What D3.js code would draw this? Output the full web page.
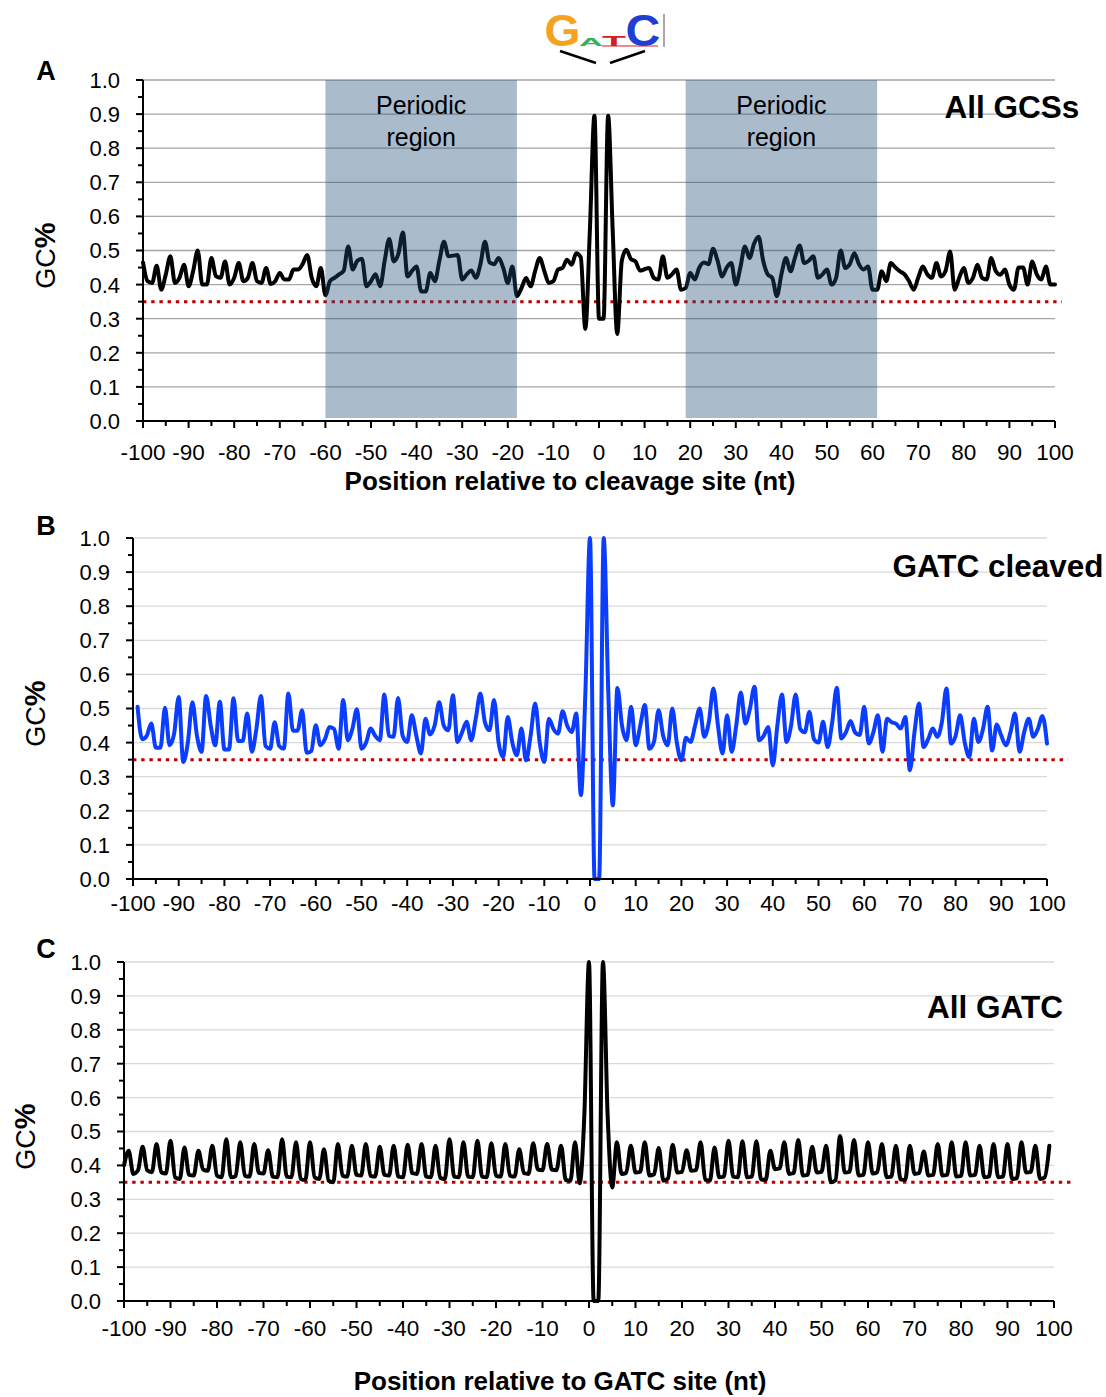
<!DOCTYPE html>
<html>
<head>
<meta charset="utf-8">
<script src="https://cdnjs.cloudflare.com/ajax/libs/d3/7.8.5/d3.min.js"></script>
<style>
  body { margin: 0; background: #fff; }
  svg text { font-family: "Liberation Sans", Arial, sans-serif; fill: #000; }
</style>
</head>
<body>
<div id="chart"></div>
<script>
/***************************
 * Data
 ***************************/
var xTickLabels = [-100, -90, -80, -70, -60, -50, -40, -30, -20, -10, 0, 10, 20, 30, 40, 50, 60, 70, 80, 90, 100];
var yTickLabels = [0.0, 0.1, 0.2, 0.3, 0.4, 0.5, 0.6, 0.7, 0.8, 0.9, 1.0];
var threshold = 0.35;
var periodicRegions = [[-60, -18], [19, 61]];

// A: all GCSs, positions -100..100
var posA = d3.range(-100, 101);
var gcA = [
    0.465, 0.41, 0.405, 0.455, 0.385, 0.43, 0.483, 0.405, 0.42, 0.458,
    0.395, 0.44, 0.50, 0.40, 0.40, 0.478, 0.425, 0.42, 0.468, 0.40,
    0.42, 0.463, 0.41, 0.42, 0.463, 0.41, 0.405, 0.449, 0.402, 0.41,
    0.434, 0.415, 0.415, 0.444, 0.444, 0.46, 0.487, 0.42, 0.395, 0.449,
    0.369, 0.41, 0.42, 0.43, 0.44, 0.512, 0.444, 0.47, 0.476, 0.395,
    0.41, 0.43, 0.395, 0.47, 0.534, 0.468, 0.49, 0.553, 0.424, 0.44,
    0.453, 0.38, 0.38, 0.434, 0.41, 0.47, 0.526, 0.483, 0.485, 0.487,
    0.415, 0.43, 0.441, 0.42, 0.46, 0.526, 0.465, 0.46, 0.478, 0.449,
    0.405, 0.453, 0.366, 0.39, 0.419, 0.395, 0.44, 0.478, 0.44, 0.405,
    0.41, 0.444, 0.449, 0.473, 0.458, 0.492, 0.48, 0.27, 0.56, 0.895,
    0.30,
    0.30, 0.895, 0.56, 0.255, 0.47, 0.502, 0.475, 0.468, 0.441, 0.445,
    0.449, 0.42, 0.415, 0.483, 0.42, 0.43, 0.444, 0.385, 0.39, 0.434,
    0.415, 0.45, 0.465, 0.46, 0.505, 0.47, 0.424, 0.45, 0.463, 0.40,
    0.45, 0.512, 0.478, 0.52, 0.54, 0.47, 0.43, 0.42, 0.366, 0.43,
    0.478, 0.439, 0.48, 0.515, 0.463, 0.47, 0.483, 0.42, 0.43, 0.444,
    0.40, 0.42, 0.50, 0.449, 0.46, 0.492, 0.46, 0.444, 0.453, 0.385,
    0.385, 0.439, 0.41, 0.463, 0.45, 0.439, 0.43, 0.41, 0.385, 0.42,
    0.453, 0.43, 0.42, 0.463, 0.424, 0.44, 0.497, 0.385, 0.42, 0.449,
    0.405, 0.42, 0.458, 0.42, 0.415, 0.478, 0.44, 0.429, 0.444, 0.40,
    0.385, 0.45, 0.45, 0.40, 0.468, 0.43, 0.415, 0.453, 0.40, 0.40
];

// B: GATC cleaved, positions -99..100
var posB = d3.range(-99, 101);
var gcB = [
    0.505, 0.41, 0.42, 0.456, 0.385, 0.385, 0.502, 0.392, 0.426, 0.534,
    0.343, 0.40, 0.518, 0.42, 0.373, 0.537, 0.45, 0.392, 0.52, 0.38,
    0.38, 0.53, 0.405, 0.405, 0.485, 0.373, 0.44, 0.537, 0.39, 0.382,
    0.46, 0.39, 0.382, 0.544, 0.435, 0.435, 0.495, 0.37, 0.375, 0.451,
    0.392, 0.41, 0.446, 0.44, 0.382, 0.525, 0.407, 0.44, 0.498, 0.382,
    0.40, 0.441, 0.42, 0.407, 0.541, 0.42, 0.417, 0.531, 0.42, 0.402,
    0.48, 0.42, 0.368, 0.47, 0.424, 0.45, 0.518, 0.45, 0.436, 0.539,
    0.402, 0.43, 0.461, 0.407, 0.47, 0.544, 0.46, 0.436, 0.525, 0.40,
    0.358, 0.475, 0.40, 0.363, 0.441, 0.348, 0.42, 0.515, 0.40, 0.343,
    0.47, 0.44, 0.426, 0.492, 0.45, 0.431, 0.485, 0.246, 0.55, 1.0,
    0.0, 0.0, 1.0, 0.55, 0.216, 0.56, 0.45, 0.407, 0.505, 0.392,
    0.45, 0.51, 0.382, 0.402, 0.495, 0.42, 0.392, 0.50, 0.40, 0.348,
    0.414, 0.402, 0.45, 0.50, 0.417, 0.46, 0.559, 0.45, 0.368, 0.48,
    0.373, 0.45, 0.547, 0.456, 0.50, 0.564, 0.407, 0.42, 0.446, 0.333,
    0.45, 0.541, 0.402, 0.45, 0.541, 0.44, 0.43, 0.49, 0.41, 0.40,
    0.461, 0.387, 0.46, 0.561, 0.412, 0.43, 0.463, 0.43, 0.422, 0.505,
    0.397, 0.43, 0.48, 0.373, 0.47, 0.46, 0.455, 0.441, 0.475, 0.319,
    0.43, 0.515, 0.387, 0.41, 0.441, 0.417, 0.46, 0.559, 0.397, 0.42,
    0.48, 0.40, 0.358, 0.47, 0.402, 0.44, 0.505, 0.377, 0.453, 0.42,
    0.392, 0.43, 0.485, 0.373, 0.43, 0.47, 0.417, 0.44, 0.478, 0.397
];

// C: all GATC, positions -100..99
var posC = d3.range(-100, 100);
var gcC = [
    0.40, 0.443, 0.375, 0.385, 0.455, 0.385, 0.38, 0.463, 0.38, 0.376,
    0.473, 0.365, 0.36, 0.453, 0.372, 0.37, 0.443, 0.388, 0.384, 0.458,
    0.37, 0.365, 0.477, 0.365, 0.368, 0.468, 0.37, 0.367, 0.463, 0.378,
    0.376, 0.445, 0.367, 0.365, 0.477, 0.367, 0.365, 0.468, 0.36, 0.357,
    0.468, 0.365, 0.36, 0.448, 0.355, 0.35, 0.463, 0.37, 0.367, 0.458,
    0.372, 0.37, 0.463, 0.37, 0.367, 0.455, 0.372, 0.37, 0.458, 0.367,
    0.365, 0.461, 0.377, 0.375, 0.463, 0.367, 0.365, 0.458, 0.363, 0.36,
    0.477, 0.367, 0.365, 0.468, 0.367, 0.365, 0.473, 0.367, 0.365, 0.465,
    0.37, 0.367, 0.463, 0.37, 0.367, 0.448, 0.377, 0.375, 0.465, 0.388,
    0.386, 0.463, 0.388, 0.386, 0.458, 0.357, 0.355, 0.468, 0.347, 0.55,
    1.0, 0.0, 0.0, 1.0, 0.55, 0.335, 0.468, 0.375, 0.378, 0.458,
    0.379, 0.381, 0.468, 0.37, 0.374, 0.451, 0.355, 0.362, 0.461, 0.379,
    0.381, 0.445, 0.384, 0.386, 0.468, 0.358, 0.355, 0.453, 0.365, 0.367,
    0.473, 0.367, 0.365, 0.471, 0.365, 0.367, 0.471, 0.359, 0.357, 0.443,
    0.389, 0.391, 0.468, 0.375, 0.377, 0.475, 0.37, 0.372, 0.455, 0.379,
    0.381, 0.458, 0.35, 0.356, 0.487, 0.379, 0.381, 0.475, 0.37, 0.372,
    0.468, 0.376, 0.38, 0.463, 0.365, 0.367, 0.458, 0.359, 0.357, 0.458,
    0.375, 0.377, 0.441, 0.37, 0.372, 0.463, 0.37, 0.372, 0.468, 0.367,
    0.369, 0.468, 0.37, 0.372, 0.458, 0.365, 0.367, 0.463, 0.365, 0.367,
    0.463, 0.36, 0.362, 0.468, 0.379, 0.381, 0.458, 0.36, 0.365, 0.458
];

// sequence logo letters: letter, colour, box [x0, y0, x1, y1]
var logoLetters = [
    ['G', '#f5a31f', [546, 14, 579, 46]],
    ['A', '#36b04a', [580, 38, 602, 46]],
    ['T', '#d42020', [603, 35, 625, 46]],
    ['C', '#1f3fd2', [627, 14, 659, 46]]
];

var panels = [{
    letter : 'A', pos : posA, values : gcA, color : '#000',
    left : 143, right : 1055, top : 80, bottom : 421,
    grid : '#a6a6a6', redEnd : 1062, xLabelY : 452,
    yTitleX : 45, letterY : 70,
    title : 'All GCSs', titleX : 1012, titleY : 107,
    xTitle : 'Position relative to cleavage site (nt)', xTitleX : 570, xTitleY : 481,
    shaded : true
}, {
    letter : 'B', pos : posB, values : gcB, color : '#0a3dff',
    left : 133, right : 1047, top : 538, bottom : 879,
    grid : '#d9d9d9', redEnd : 1068, xLabelY : 903,
    yTitleX : 35, letterY : 525,
    title : 'GATC cleaved', titleX : 998, titleY : 566
}, {
    letter : 'C', pos : posC, values : gcC, color : '#000',
    left : 124, right : 1054, top : 962, bottom : 1301,
    grid : '#d9d9d9', redEnd : 1075, xLabelY : 1328,
    yTitleX : 25, letterY : 948,
    title : 'All GATC', titleX : 995, titleY : 1007,
    xTitle : 'Position relative to GATC site (nt)', xTitleX : 560, xTitleY : 1381
}];

/***************************
 * Draw
 ***************************/
var svg = d3.select('#chart').append('svg').attr('width', 1106).attr('height', 1397);

var drawPanel = function(p) {
    var g = svg.append('g');
    var x = d3.scaleLinear().domain([-100, 100]).range([p.left, p.right]);
    var y = d3.scaleLinear().domain([0, 1]).range([p.bottom, p.top]);

    // gridlines
    g.selectAll('.grid').data(yTickLabels.slice(1)).enter().append('line')
        .attr('x1', p.left).attr('x2', p.right)
        .attr('y1', function(d) { return y(d); }).attr('y2', function(d) { return y(d); })
        .style('stroke', p.grid).style('stroke-width', 1.3);

    // threshold
    g.append('line')
        .attr('x1', p.left).attr('x2', p.redEnd)
        .attr('y1', y(threshold)).attr('y2', y(threshold))
        .style('stroke', '#c00000').style('stroke-width', 3).style('stroke-dasharray', '3.4,4.8');

    // series
    var line = d3.line()
        .x(function(d) { return x(d[0]); })
        .y(function(d) { return y(d[1]); })
        .curve(d3.curveMonotoneX);
    g.append('path')
        .datum(d3.zip(p.pos, p.values))
        .attr('d', line)
        .style('fill', 'none').style('stroke', p.color).style('stroke-width', 4)
        .style('stroke-linejoin', 'round').style('stroke-linecap', 'round');

    // periodic regions overlaid
    if (p.shaded) {
        periodicRegions.forEach(function(r) {
            g.append('rect')
                .attr('x', x(r[0])).attr('y', y(1))
                .attr('width', x(r[1]) - x(r[0])).attr('height', y(0) - y(1) - 3)
                .style('fill', '#1f4e79').style('opacity', 0.38);
            var cx = (x(r[0]) + x(r[1])) / 2;
            g.append('text').attr('x', cx).attr('y', 105).attr('dy', '0.35em')
                .attr('text-anchor', 'middle').style('font-size', '25px').text('Periodic');
            g.append('text').attr('x', cx).attr('y', 137).attr('dy', '0.35em')
                .attr('text-anchor', 'middle').style('font-size', '25px').text('region');
        });
    }

    // axes
    g.append('line').attr('x1', p.left).attr('x2', p.left).attr('y1', p.top).attr('y2', p.bottom)
        .style('stroke', '#000').style('stroke-width', 2);
    g.append('line').attr('x1', p.left).attr('x2', p.right).attr('y1', p.bottom).attr('y2', p.bottom)
        .style('stroke', '#000').style('stroke-width', 2);

    // y ticks: major 0.1, minor 0.05
    yTickLabels.forEach(function(v, i) {
        g.append('line').attr('x1', p.left - 7).attr('x2', p.left).attr('y1', y(v)).attr('y2', y(v))
            .style('stroke', '#000').style('stroke-width', 2);
        if (i < yTickLabels.length - 1) {
            var m = (v + yTickLabels[i + 1]) / 2;
            g.append('line').attr('x1', p.left - 5).attr('x2', p.left).attr('y1', y(m)).attr('y2', y(m))
                .style('stroke', '#000').style('stroke-width', 2);
        }
        g.append('text').attr('x', p.left - 23).attr('y', y(v)).attr('dy', '0.36em')
            .attr('text-anchor', 'end').style('font-size', '22px').text(v.toFixed(1));
    });

    // x ticks: major 10, minor 5
    xTickLabels.forEach(function(v, i) {
        g.append('line').attr('x1', x(v)).attr('x2', x(v)).attr('y1', p.bottom).attr('y2', p.bottom + 7)
            .style('stroke', '#000').style('stroke-width', 2);
        if (i < xTickLabels.length - 1) {
            var m = (v + xTickLabels[i + 1]) / 2;
            g.append('line').attr('x1', x(m)).attr('x2', x(m)).attr('y1', p.bottom).attr('y2', p.bottom + 5)
                .style('stroke', '#000').style('stroke-width', 2);
        }
        g.append('text').attr('x', x(v)).attr('y', p.xLabelY).attr('dy', '0.36em')
            .attr('text-anchor', 'middle').style('font-size', '22.5px').text(v);
    });

    // y title
    var yt = g.append('text')
        .attr('transform', 'translate(' + p.yTitleX + ',' + ((p.top + p.bottom) / 2 + 5) + ') rotate(-90)')
        .attr('dy', '0.36em').attr('text-anchor', 'middle').style('font-size', '27px');
    yt.append('tspan').text('GC');
    yt.append('tspan').style('font-weight', 'bold').style('font-size', '29px').text('%');

    // panel letter and title
    g.append('text').attr('x', 46).attr('y', p.letterY).attr('dy', '0.36em')
        .attr('text-anchor', 'middle').style('font-size', '27px').style('font-weight', 'bold').text(p.letter);
    g.append('text').attr('x', p.titleX).attr('y', p.titleY).attr('dy', '0.36em')
        .attr('text-anchor', 'middle').style('font-size', '31.5px').style('font-weight', 'bold').text(p.title);

    if (p.xTitle) {
        g.append('text').attr('x', p.xTitleX).attr('y', p.xTitleY).attr('dy', '0.36em')
            .attr('text-anchor', 'middle').style('font-size', '26px').style('font-weight', 'bold').text(p.xTitle);
    }
};

panels.forEach(drawPanel);

/***************************
 * Sequence logo above panel A
 ***************************/
var logo = svg.append('g');
logoLetters.forEach(function(l) {
    var b = l[2];
    var t = logo.append('text').attr('x', 0).attr('y', 0)
        .style('font-size', '100px').style('font-weight', 'bold').style('fill', l[1]).text(l[0]);
    var len = t.node().getComputedTextLength();
    var sx = (b[2] - b[0]) / (len * 0.92), sy = (b[3] - b[1]) / 71.6;
    t.attr('transform', 'translate(' + (b[0] - len * 0.04 * sx) + ',' + b[3] + ') scale(' + sx + ',' + sy + ')');
});
logo.append('line').attr('x1', 602).attr('x2', 658).attr('y1', 46).attr('y2', 46)
    .style('stroke', '#d42020').style('stroke-width', 1.2);
logo.append('line').attr('x1', 664).attr('x2', 664).attr('y1', 14).attr('y2', 47)
    .style('stroke', '#8c8c8c').style('stroke-width', 1.5);
logo.append('line').attr('x1', 560).attr('y1', 51).attr('x2', 596).attr('y2', 63)
    .style('stroke', '#000').style('stroke-width', 2.5);
logo.append('line').attr('x1', 610).attr('y1', 63).attr('x2', 645).attr('y2', 51)
    .style('stroke', '#000').style('stroke-width', 2.5);
</script>
</body>
</html>
